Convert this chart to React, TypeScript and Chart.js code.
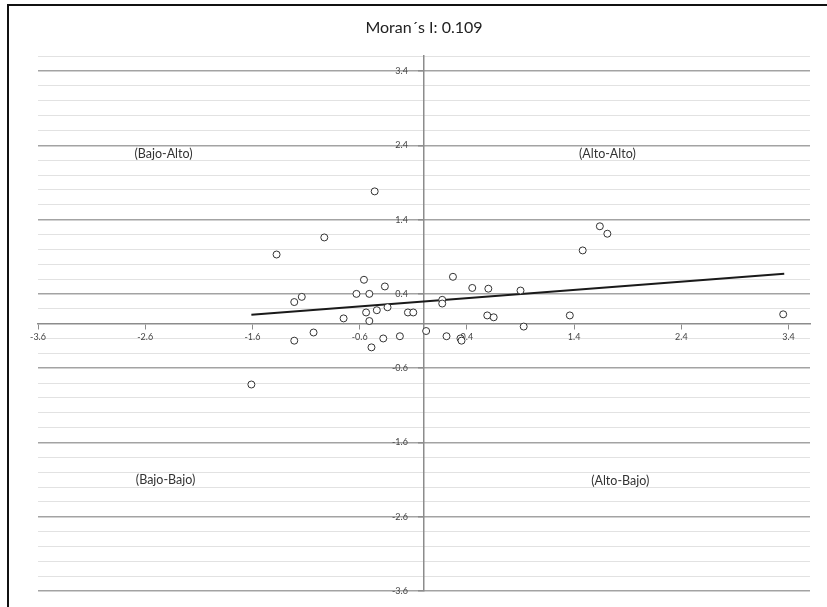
import React, { useEffect, useRef } from "react";
import { Chart, registerables } from "chart.js";

Chart.register(...registerables);

const TITLE = "Moran´s I: 0.109";

const xTickValues = [-3.6, -2.6, -1.6, -0.6, 0.4, 1.4, 2.4, 3.4];
const yMajorTicks = [-3.6, -2.6, -1.6, -0.6, 0.4, 1.4, 2.4, 3.4];
const yMinorTicks = [
  -3.4, -3.2, -3.0, -2.8, -2.4, -2.2, -2.0, -1.8, -1.4, -1.2, -1.0, -0.8,
  -0.4, -0.2, 0.0, 0.2, 0.6, 0.8, 1.0, 1.2, 1.6, 1.8, 2.0, 2.2, 2.6, 2.8,
  3.0, 3.2, 3.6,
];

const xValues = [
  -1.61, -1.375, -1.21, -1.14, -1.21, -1.03, -0.93, -0.75, -0.63, -0.56,
  -0.54, -0.51, -0.51, -0.49, -0.46, -0.44, -0.38, -0.365, -0.34, -0.225,
  -0.15, -0.1, 0.02, 0.17, 0.17, 0.21, 0.27, 0.34, 0.35, 0.45,
  0.59, 0.6, 0.65, 0.9, 0.93, 1.36, 1.48, 1.64, 1.71, 3.35,
];
const yValues = [
  -0.82, 0.93, 0.29, 0.36, -0.23, -0.12, 1.16, 0.07, 0.4, 0.59,
  0.15, 0.4, 0.035, -0.32, 1.78, 0.18, -0.2, 0.5, 0.22, -0.17,
  0.15, 0.15, -0.1, 0.32, 0.27, -0.17, 0.63, -0.2, -0.23, 0.48,
  0.11, 0.47, 0.085, 0.445, -0.04, 0.11, 0.985, 1.31, 1.21, 0.125,
];

const trendX = [-1.61, 3.36];
const trendY = [0.12, 0.67];

const quadrantLabels = ["(Bajo-Alto)", "(Alto-Alto)", "(Bajo-Bajo)", "(Alto-Bajo)"];
const quadrantX = [-2.43, 1.71, -2.41, 1.83];
const quadrantY = [2.28, 2.28, -2.1, -2.12];

const FONT = "Lato, 'Open Sans', 'Liberation Sans', sans-serif";
const Y_LABEL_GAP = "       "; // keeps y labels clear of the axis, as in the original

const isMajor = (v: number) => yMajorTicks.some((m) => Math.abs(m - v) < 1e-6);

const quadrantPlugin = {
  id: "quadrantLabels",
  afterDatasetsDraw(chart: any) {
    const { ctx, scales } = chart;
    ctx.save();
    ctx.font = `12.5px ${FONT}`;
    ctx.fillStyle = "#333";
    ctx.textAlign = "center";
    ctx.textBaseline = "middle";
    quadrantLabels.forEach((t, i) => {
      ctx.fillText(t, scales.x.getPixelForValue(quadrantX[i]), scales.y.getPixelForValue(quadrantY[i]));
    });
    ctx.restore();
  },
};

export default function App() {
  const ref = useRef<HTMLCanvasElement | null>(null);

  useEffect(() => {
    if (!ref.current) return;
    const points = xValues.map((x, i) => ({ x, y: yValues[i] }));
    const trend = trendX.map((x, i) => ({ x, y: trendY[i] }));
    const allY = [...yMajorTicks, ...yMinorTicks].sort((a, b) => a - b);

    const chart = new Chart(ref.current, {
      type: "scatter",
      data: {
        datasets: [
          {
            label: "Tendencia",
            data: trend,
            showLine: true,
            borderColor: "#1a1a1a",
            borderWidth: 2,
            pointRadius: 0,
            order: 1,
          } as any,
          {
            label: "Datos",
            data: points,
            pointRadius: 3.5,
            pointBorderWidth: 1,
            pointBorderColor: "#333",
            pointBackgroundColor: "#fff",
            order: 0,
          } as any,
        ],
      },
      options: {
        animation: false,
        responsive: false,
        maintainAspectRatio: false,
        layout: { padding: { left: 38, right: 17, bottom: 16, top: 0 } },
        plugins: {
          legend: { display: false },
          tooltip: { enabled: false },
          title: {
            display: true,
            text: TITLE,
            color: "#222",
            font: { family: FONT, size: 16, weight: "normal", lineHeight: 1.2 },
            padding: { top: 18, bottom: 19 },
          },
        },
        scales: {
          x: {
            type: "linear",
            min: -3.6,
            max: 3.6,
            position: { y: 0 } as any,
            afterBuildTicks: (s: any) => {
              s.ticks = xTickValues.map((v) => ({ value: v }));
            },
            afterFit: (s: any) => {
              s.height = 0;
            },
            grid: {
              drawOnChartArea: false,
              drawTicks: true,
              tickLength: 5,
              tickColor: "#8c8c8c",
            },
            border: { display: true, color: "#8c8c8c", width: 1.5 },
            ticks: {
              autoSkip: false,
              maxRotation: 0,
              padding: 3,
              color: "#444",
              font: { family: FONT, size: 9 },
              callback: (v: any) => Number(v).toFixed(1),
            },
          },
          y: {
            type: "linear",
            min: -3.6,
            max: 3.6,
            position: { x: 0 } as any,
            afterBuildTicks: (s: any) => {
              s.ticks = allY.map((v) => ({ value: v }));
            },
            afterFit: (s: any) => {
              s.width = 0;
            },
            grid: {
              drawTicks: true,
              tickLength: 5,
              color: (c: any) => (c.tick && isMajor(c.tick.value) ? "#a3a3a3" : "#e2e2e2"),
              lineWidth: (c: any) => (c.tick && isMajor(c.tick.value) ? 1.5 : 1),
              tickColor: (c: any) => (c.tick && isMajor(c.tick.value) ? "#8c8c8c" : "rgba(0,0,0,0)"),
            },
            border: { display: true, color: "#8c8c8c", width: 1.5 },
            ticks: {
              autoSkip: false,
              padding: 3,
              color: "#444",
              font: { family: FONT, size: 9 },
              callback: (v: any) => (isMajor(Number(v)) ? Number(v).toFixed(1) + Y_LABEL_GAP : ""),
            },
          },
        },
      },
      plugins: [quadrantPlugin],
    });
    return () => chart.destroy();
  }, []);

  return (
    <div style={{ position: "fixed", left: 0, top: 0, width: 827, height: 607, background: "#fff" }}>
      <div
        style={{
          position: "absolute",
          left: 7,
          top: 4,
          right: 0,
          bottom: 0,
          borderLeft: "2px solid #111",
          borderTop: "2px solid #111",
          pointerEvents: "none",
        }}
      />
      <canvas ref={ref} width={827} height={607} style={{ position: "absolute", left: 0, top: 0, width: 827, height: 607 }} />
    </div>
  );
}
